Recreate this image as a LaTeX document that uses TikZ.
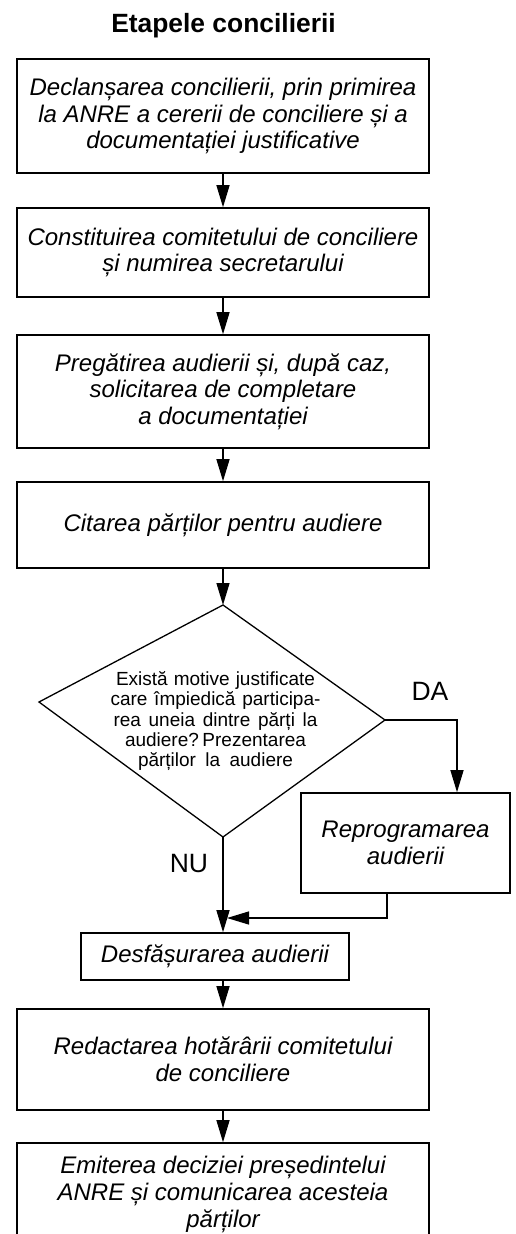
\documentclass[tikz,border=0pt]{standalone}
\usepackage{fontspec}
\setmainfont{Liberation Sans}
\usetikzlibrary{arrows.meta,calc}
\begin{document}
\frenchspacing
\begin{tikzpicture}[x=1pt,y=-1pt,
  box/.style={draw,line width=1.6pt,rectangle,inner sep=0pt,align=center,
    font=\fontsize{24}{26.6}\selectfont\itshape},
  arr/.style={line width=1.3pt,-{Triangle[length=22pt,width=13pt]}},
  lab/.style={font=\fontsize{26.5}{30}\selectfont}]
\clip (0,0) rectangle (515,1234);
\fill[white] (0,0) rectangle (515,1234);
\node[font=\fontsize{26.4}{30}\selectfont\bfseries,anchor=base] (title) at (223.5,32) {Etapele concilierii};
\node[box,minimum width=412pt,minimum height=114pt] (b1) at (223,116)
  {Declanșarea concilierii, prin primirea\\la ANRE a cererii de conciliere și a\\documentației justificative};
\node[box,minimum width=412pt,minimum height=89pt] (b2) at (223,252.5)
  {Constituirea comitetului de conciliere\\și numirea secretarului};
\node[box,minimum width=412pt,minimum height=113pt] (b3) at (223,391.5)
  {Pregătirea audierii și, după caz,\\solicitarea de completare\\a documentației};
\node[box,minimum width=412pt,minimum height=86pt] (b4) at (223,525)
  {Citarea părților pentru audiere};
\coordinate (dtop) at (223,605);
\coordinate (dleft) at (39,702);
\coordinate (dright) at (385,720);
\coordinate (dbot) at (223,837);
\draw[line width=1.3pt,line join=miter] (dtop) -- (dright) -- (dbot) -- (dleft) -- cycle;
\node[font=\fontsize{19}{20.3}\selectfont,align=center] (dtext) at (215.5,721)
  {\makebox[199pt][s]{Există motive justificate}\\
   \makebox[210pt][s]{care împiedică participa-}\\
   \makebox[204pt][s]{rea uneia dintre părți la}\\
   \makebox[181pt][s]{audiere? Prezentarea}\\
   \makebox[155pt][s]{părților la audiere}};
\node[box,minimum width=209pt,minimum height=100pt] (rep) at (405.5,843)
  {Reprogramarea\\audierii};
\node[box,minimum width=268pt,minimum height=47pt] (desf) at (215,956.5)
  {Desfășurarea audierii};
\node[box,minimum width=412pt,minimum height=101pt] (red) at (223,1059.5)
  {Redactarea hotărârii comitetului\\de conciliere};
\node[box,minimum width=412pt,minimum height=103pt] (emit) at (223,1194.5)
  {Emiterea deciziei președintelui\\ANRE și comunicarea acesteia\\părților};
\node[lab] (da) at (430,691) {DA};
\node[lab] (nu) at (189,864) {NU};
\coordinate (daturn) at (457,720);
\coordinate (join) at (227,918);
\draw[arr] (b1.south) -- (b2.north);
\draw[arr] (b2.south) -- (b3.north);
\draw[arr] (b3.south) -- (b4.north);
\draw[arr] (b4.south) -- (dtop);
\draw[arr] (dright) -- (daturn) -- (daturn |- rep.north);
\draw[arr] (dbot) -- (dbot |- desf.north);
\draw[arr] ([xshift=-18.5pt]rep.south) |- (join);
\draw[arr] (desf.south -| red.north) -- (red.north);
\draw[arr] (red.south) -- (emit.north);
\end{tikzpicture}
\end{document}
